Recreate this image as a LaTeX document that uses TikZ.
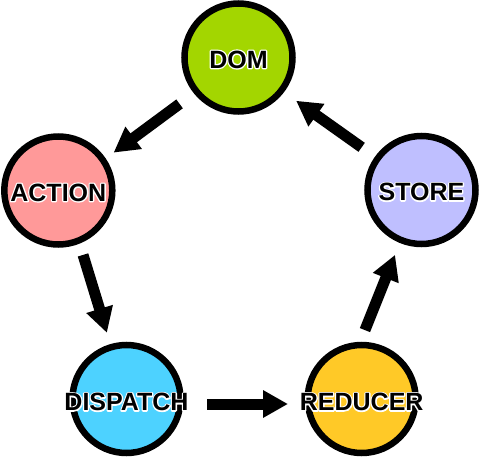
\documentclass[tikz,border=0pt]{standalone}
\usepackage{fontspec}
\setmainfont{Liberation Sans}
\usetikzlibrary{arrows.meta,calc}
\definecolor{domc}{HTML}{A3D600}
\definecolor{actc}{HTML}{FF9999}
\definecolor{stoc}{HTML}{BFBFFF}
\definecolor{disc}{HTML}{4DD2FF}
\definecolor{redc}{HTML}{FFC927}
\newsavebox\halobox
\newcommand\halotxt[1]{\setbox\halobox=\hbox{#1}%
  \rlap{\color{white}\special{pdf:literal direct 2 Tr 2.6 w 1 j}\usebox\halobox\special{pdf:literal direct 0 Tr}}%
  {\color{black}\usebox\halobox}}
\tikzset{
  ball/.style={circle, draw=black, line width=6.5pt, minimum size=108pt, inner sep=0pt},
  lbl/.style={inner sep=0pt, font=\fontsize{25}{30}\selectfont\bfseries},
  bigarrow/.style={line width=11pt, -{Triangle[length=25pt,width=26pt]}}
}
\begin{document}
\begin{tikzpicture}[x=1pt,y=-1pt]
\useasboundingbox (0,0) rectangle (480,458);
\node[ball, fill=domc] (dom) at (238.5,57.5) {};
\node[ball, fill=actc] (action) at (58.3,190.5) {};
\node[ball, fill=stoc] (store) at (421.5,190) {};
\node[ball, fill=disc] (dispatch) at (126.5,399) {};
\node[ball, fill=redc] (reducer) at (361.7,399) {};
\node[lbl] (domtxt) at ($(dom)+(0,2)$) {\halotxt{DOM}};
\node[lbl] (acttxt) at ($(action)+(0,2)$) {\halotxt{ACTION}};
\node[lbl] (stotxt) at ($(store)+(0,2)$) {\halotxt{STORE}};
\node[lbl] (distxt) at ($(dispatch)+(0,3)$) {\halotxt{DISPATCH}};
\node[lbl] (redtxt) at ($(reducer)+(0,3)$) {\halotxt{REDUCER}};
\draw[bigarrow] ($(dom)+(141.8:75)$) -- ($(action)+(-34.4:67)$);
\draw[bigarrow] ($(action)+(69:69)$) -- ($(dispatch)+(-106.5:69)$);
\draw[bigarrow] ($(dispatch)+(80.5,5)$) -- ($(reducer)+(-73.7,5)$);
\draw[bigarrow] ($(reducer)+(-87.3:69)$) -- ($(store)+(112.2:70)$);
\draw[bigarrow] ($(store)+(-144.5:73.5)$) -- ($(dom)+(36.9:72)$);
\end{tikzpicture}
\end{document}
